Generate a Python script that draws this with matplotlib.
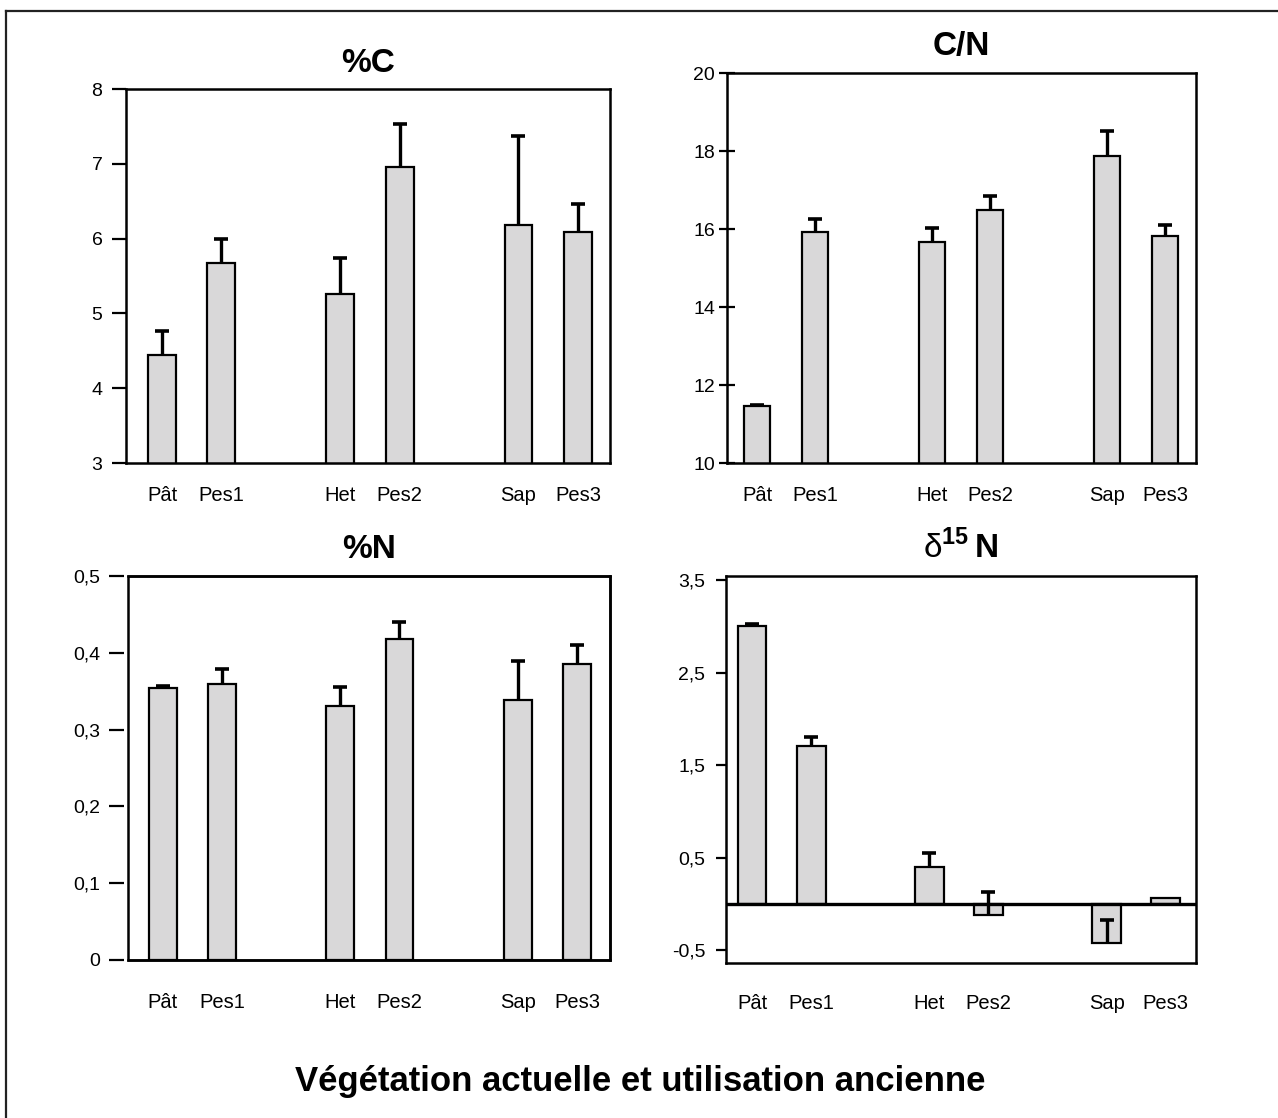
import matplotlib
matplotlib.use('Agg')
import matplotlib.pyplot as plt
from matplotlib.patches import Rectangle
from matplotlib.lines import Line2D

plt.rcParams['font.family'] = ['Liberation Sans', 'DejaVu Sans']
plt.rcParams['mathtext.fontset'] = 'custom'
plt.rcParams['mathtext.rm'] = 'Liberation Sans'
plt.rcParams['mathtext.bf'] = 'Liberation Sans:bold'

# ---------------- data ----------------
categories = ['Pât', 'Pes1', 'Het', 'Pes2', 'Sap', 'Pes3']
positions = [0, 1, 3, 4, 6, 7]

pc_values = [4.44, 5.67, 5.26, 6.96, 6.18, 6.09]
pc_errors = [0.32, 0.33, 0.48, 0.57, 1.19, 0.37]
pc_ticks = [3, 4, 5, 6, 7, 8]

cn_values = [11.45, 15.92, 15.67, 16.49, 17.87, 15.82]
cn_errors = [0.05, 0.34, 0.36, 0.36, 0.64, 0.28]
cn_ticks = [10, 12, 14, 16, 18, 20]

pn_values = [0.354, 0.359, 0.331, 0.418, 0.339, 0.385]
pn_errors = [0.003, 0.020, 0.024, 0.022, 0.050, 0.025]
pn_ticks = [0, 0.1, 0.2, 0.3, 0.4, 0.5]

d15n_values = [3.01, 1.71, 0.40, -0.12, -0.42, 0.07]
d15n_errors = [0.02, 0.10, 0.15, 0.25, 0.25, 0.0]
d15n_ticks = [-0.5, 0.5, 1.5, 2.5, 3.5]

caption = 'Végétation actuelle et utilisation ancienne'

# ---------------- figure ----------------
W, H = 1278, 1118
fig = plt.figure(figsize=(W / 100, H / 100), dpi=100)
fig.patch.set_facecolor('white')

BAR_COLOR = '#d9d8d9'
XLAB = 14.5
YLAB = 14
TITLE = 24


def add_axes_px(l, r, t, b):
    return fig.add_axes([l / W, 1 - b / H, (r - l) / W, (b - t) / H])


def fmt(v):
    return ('%g' % v).replace('.', ',')


def panel(ax, values, errors, ticks, ylim, xlim, width, title, xpad,
          tickdir='out', ticklen=10, tickpad=6, title_pad=14, offset=0):
    ax.bar(positions, values, width=width, color=BAR_COLOR,
           edgecolor='black', linewidth=1.6, zorder=2)
    xs = [p for p, e in zip(positions, errors) if e > 0]
    ys = [v for v, e in zip(values, errors) if e > 0]
    es = [e for e in errors if e > 0]
    eb = ax.errorbar(xs, ys, yerr=[[0] * len(es), es], fmt='none',
                     ecolor='black', elinewidth=2.4, capsize=5,
                     capthick=2.6, zorder=3)
    caplines = eb[1]
    if len(caplines) == 2:
        caplines[0].set_visible(False)
    ax.set_ylim(*ylim)
    ax.set_xlim(*xlim)
    ax.set_yticks(ticks, [fmt(t) for t in ticks])
    ax.set_xticks(positions, categories)
    ax.tick_params(axis='x', length=0, pad=xpad, labelsize=XLAB)
    ax.tick_params(axis='y', direction=tickdir, length=ticklen, width=1.6,
                   pad=tickpad, labelsize=YLAB)
    for s in ax.spines.values():
        s.set_linewidth(1.8)
    if offset:
        ax.spines['left'].set_position(('outward', offset))
        ax.spines['left'].set_visible(False)
        ax.add_patch(Rectangle((0, 0), 1, 1, transform=ax.transAxes,
                               fill=False, edgecolor='black', linewidth=1.8,
                               clip_on=False, zorder=5))
    if title is not None:
        ax.set_title(title, fontsize=TITLE, fontweight='bold', pad=title_pad)


# %C
ax1 = add_axes_px(126, 610, 89, 463)
panel(ax1, pc_values, pc_errors, pc_ticks, (3, 8), (-0.606, 7.54), 0.47,
      '%C', xpad=16.5, ticklen=10, tickpad=7, title_pad=12)

# C/N
ax2 = add_axes_px(727, 1196, 73, 463)
panel(ax2, cn_values, cn_errors, cn_ticks, (10, 20), (-0.515, 7.53), 0.45,
      'C/N', xpad=16.5, tickdir='inout', ticklen=11, tickpad=3, title_pad=13)

# %N
ax3 = add_axes_px(128, 610, 576, 960)
panel(ax3, pn_values, pn_errors, pn_ticks, (0, 0.5), (-0.59, 7.56), 0.47,
      '%N', xpad=24, ticklen=11, tickpad=6, title_pad=13, offset=3)

# delta 15 N
ax4 = add_axes_px(726, 1196, 576, 963)
panel(ax4, d15n_values, d15n_errors, d15n_ticks, (-0.638, 3.546),
      (-0.44, 7.51), 0.49, None, xpad=22, ticklen=7, tickpad=8)
ax4.axhline(0, color='black', linewidth=2.4, zorder=4)
ax4.set_title(r'$\mathrm{\delta}^{\mathbf{15}}\,\mathbf{N}$', fontsize=TITLE,
              pad=13)

# caption
fig.text(640 / W, 1 - 1081 / H, caption, ha='center', va='center',
         fontsize=25, fontweight='bold')

# outer frame (top and left edges visible)
fig.add_artist(Line2D([6 / W, 6 / W], [0, 1 - 11 / H], color='#222222',
                      linewidth=1.6, transform=fig.transFigure))
fig.add_artist(Line2D([6 / W, 1], [1 - 11 / H, 1 - 11 / H], color='#222222',
                      linewidth=1.6, transform=fig.transFigure))

fig.savefig('out.png', dpi=100, facecolor='white')
